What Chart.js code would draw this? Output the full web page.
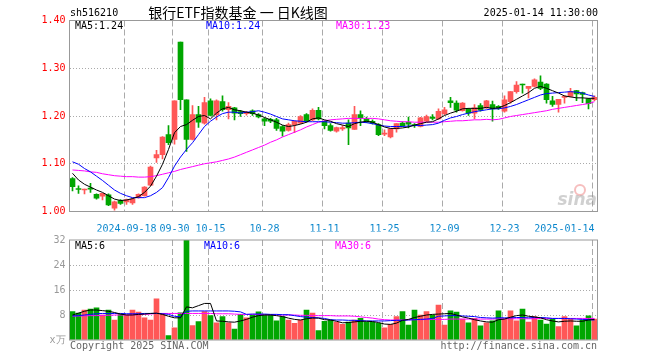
<!DOCTYPE html>
<html>
<head>
<meta charset="utf-8">
<script src="https://cdn.jsdelivr.net/npm/chart.js@4"></script>
<style>
  html, body { margin: 0; padding: 0; background: #fff; }
  #wrap { position: relative; width: 660px; height: 360px; }
  #wrap canvas { position: absolute; left: 0; top: 0; }
</style>
</head>
<body>
<div id="wrap">
  <canvas id="kline" width="660" height="360"></canvas>
  <canvas id="vol" width="660" height="360"></canvas>
</div>
<script>
const dates = ['2024-09-03','2024-09-04','2024-09-05','2024-09-06','2024-09-09','2024-09-10','2024-09-11','2024-09-12','2024-09-13','2024-09-18',
  '2024-09-19','2024-09-20','2024-09-23','2024-09-24','2024-09-25','2024-09-26','2024-09-27','2024-09-30','2024-10-08','2024-10-09',
  '2024-10-10','2024-10-11','2024-10-14','2024-10-15','2024-10-16','2024-10-17','2024-10-18','2024-10-21','2024-10-22','2024-10-23',
  '2024-10-24','2024-10-25','2024-10-28','2024-10-29','2024-10-30','2024-10-31','2024-11-01','2024-11-04','2024-11-05','2024-11-06',
  '2024-11-07','2024-11-08','2024-11-11','2024-11-12','2024-11-13','2024-11-14','2024-11-15','2024-11-18','2024-11-19','2024-11-20',
  '2024-11-21','2024-11-22','2024-11-25','2024-11-26','2024-11-27','2024-11-28','2024-11-29','2024-12-02','2024-12-03','2024-12-04',
  '2024-12-05','2024-12-06','2024-12-09','2024-12-10','2024-12-11','2024-12-12','2024-12-13','2024-12-16','2024-12-17','2024-12-18',
  '2024-12-19','2024-12-20','2024-12-23','2024-12-24','2024-12-25','2024-12-26','2024-12-27','2024-12-30','2024-12-31','2025-01-02',
  '2025-01-03','2025-01-06','2025-01-07','2025-01-08','2025-01-09','2025-01-10','2025-01-13','2025-01-14'];

const tickDates = ['2024-09-18','2024-09-30','2024-10-15','2024-10-28','2024-11-11','2024-11-25','2024-12-09','2024-12-23','2025-01-14'];
const tickLabels = ['2024-09-18','09-30','10-15','10-28','11-11','11-25','12-09','12-23','2025-01-14'];

const open = [1.069,1.048,1.045,1.049,1.036,1.032,1.035,1.007,1.023,1.020,
  1.018,1.029,1.033,1.055,1.112,1.119,1.161,1.151,1.355,1.234,
  1.151,1.203,1.185,1.232,1.203,1.230,1.213,1.217,1.209,1.205,
  1.211,1.203,1.194,1.193,1.192,1.178,1.170,1.182,1.185,1.203,
  1.192,1.212,1.189,1.180,1.168,1.173,1.185,1.172,1.203,1.194,
  1.189,1.182,1.162,1.156,1.173,1.185,1.187,1.181,1.178,1.189,
  1.198,1.194,1.205,1.232,1.227,1.211,1.214,1.206,1.222,1.217,
  1.224,1.220,1.210,1.230,1.251,1.267,1.258,1.262,1.271,1.267,
  1.232,1.224,1.239,1.241,1.253,1.249,1.236,1.234];
const high = [1.071,1.054,1.047,1.059,1.037,1.038,1.037,1.022,1.025,1.026,
  1.028,1.037,1.052,1.095,1.128,1.157,1.180,1.232,1.355,1.234,
  1.222,1.220,1.239,1.236,1.234,1.242,1.228,1.218,1.212,1.210,
  1.213,1.205,1.196,1.195,1.195,1.180,1.185,1.190,1.201,1.205,
  1.215,1.218,1.190,1.184,1.177,1.180,1.192,1.220,1.211,1.198,
  1.192,1.184,1.171,1.174,1.184,1.188,1.198,1.184,1.197,1.202,
  1.203,1.215,1.218,1.239,1.232,1.228,1.216,1.224,1.226,1.233,
  1.231,1.222,1.242,1.251,1.272,1.267,1.262,1.278,1.284,1.268,
  1.241,1.235,1.243,1.258,1.254,1.250,1.237,1.242];
const low = [1.043,1.038,1.037,1.040,1.026,1.024,1.012,1.003,1.015,1.015,
  1.015,1.028,1.032,1.054,1.103,1.110,1.140,1.141,1.213,1.126,
  1.150,1.176,1.183,1.200,1.192,1.210,1.194,1.192,1.199,1.202,
  1.201,1.196,1.180,1.186,1.170,1.158,1.168,1.165,1.184,1.187,
  1.190,1.192,1.173,1.168,1.166,1.170,1.140,1.172,1.180,1.186,
  1.183,1.159,1.159,1.154,1.166,1.178,1.175,1.176,1.177,1.188,
  1.192,1.193,1.203,1.218,1.208,1.210,1.201,1.194,1.210,1.216,
  1.189,1.214,1.208,1.227,1.248,1.248,1.238,1.261,1.255,1.227,
  1.220,1.208,1.227,1.240,1.232,1.228,1.215,1.232];
const close = [1.052,1.046,1.047,1.047,1.028,1.038,1.014,1.020,1.017,1.025,
  1.026,1.036,1.051,1.093,1.119,1.156,1.144,1.232,1.234,1.151,
  1.203,1.187,1.228,1.201,1.232,1.213,1.220,1.206,1.205,1.207,
  1.205,1.198,1.189,1.189,1.174,1.168,1.182,1.189,1.199,1.189,
  1.212,1.194,1.180,1.170,1.176,1.176,1.175,1.203,1.196,1.187,
  1.185,1.161,1.163,1.173,1.184,1.180,1.183,1.180,1.196,1.199,
  1.195,1.210,1.213,1.228,1.212,1.227,1.206,1.217,1.212,1.232,
  1.215,1.216,1.234,1.251,1.265,1.265,1.262,1.276,1.258,1.234,
  1.224,1.235,1.241,1.251,1.246,1.245,1.226,1.239];

const ma5 = [1.080,1.066,1.057,1.051,1.045,1.040,1.033,1.026,1.023,1.024,
  1.027,1.031,1.040,1.053,1.074,1.099,1.130,1.165,1.178,1.182,
  1.191,1.199,1.201,1.194,1.206,1.215,1.218,1.213,1.211,1.208,
  1.206,1.202,1.197,1.192,1.187,1.181,1.178,1.180,1.183,1.187,
  1.194,1.196,1.192,1.189,1.184,1.181,1.178,1.184,1.187,1.189,
  1.187,1.182,1.177,1.174,1.174,1.175,1.177,1.181,1.184,1.187,
  1.188,1.194,1.201,1.206,1.210,1.215,1.216,1.216,1.216,1.218,
  1.216,1.217,1.222,1.228,1.235,1.242,1.249,1.258,1.262,1.258,
  1.253,1.248,1.242,1.240,1.238,1.238,1.237,1.237];
const ma10 = [1.104,1.099,1.090,1.083,1.074,1.065,1.055,1.045,1.038,1.033,
  1.029,1.029,1.029,1.033,1.040,1.050,1.071,1.095,1.114,1.130,
  1.144,1.161,1.178,1.189,1.198,1.205,1.208,1.208,1.206,1.208,
  1.209,1.211,1.208,1.204,1.199,1.194,1.192,1.190,1.189,1.188,
  1.188,1.188,1.188,1.187,1.186,1.185,1.185,1.186,1.187,1.186,
  1.184,1.181,1.179,1.178,1.178,1.178,1.179,1.180,1.180,1.181,
  1.182,1.185,1.191,1.196,1.199,1.203,1.206,1.209,1.211,1.213,
  1.215,1.215,1.217,1.220,1.224,1.229,1.234,1.239,1.244,1.247,
  1.248,1.249,1.250,1.251,1.250,1.248,1.244,1.241];
const ma30 = [1.087,1.086,1.085,1.083,1.082,1.079,1.077,1.075,1.074,1.073,
  1.073,1.072,1.072,1.073,1.075,1.078,1.081,1.084,1.088,1.091,
  1.094,1.097,1.100,1.102,1.104,1.107,1.110,1.114,1.119,1.124,
  1.129,1.134,1.139,1.145,1.150,1.156,1.161,1.166,1.171,1.177,
  1.182,1.187,1.190,1.192,1.193,1.194,1.195,1.195,1.195,1.195,
  1.195,1.194,1.192,1.190,1.189,1.188,1.188,1.187,1.187,1.187,
  1.187,1.187,1.188,1.189,1.190,1.190,1.191,1.192,1.192,1.193,
  1.192,1.193,1.196,1.199,1.201,1.203,1.205,1.207,1.209,1.211,
  1.214,1.216,1.218,1.220,1.222,1.224,1.226,1.230];

// volume, in 万
const volume = [9.1,8.6,9.6,9.9,10.3,8.0,9.6,6.4,8.2,8.0,
  9.6,8.9,7.1,6.4,13.2,8.5,1.4,3.9,8.7,32.5,
  4.6,5.9,9.1,7.8,5.5,7.5,5.5,3.5,8.2,7.1,
  8.0,9.0,8.0,8.0,6.1,7.5,6.4,5.3,6.4,9.6,
  8.6,3.0,6.0,6.4,5.7,5.0,5.7,6.4,6.9,5.7,
  5.7,5.3,3.9,5.0,7.5,9.1,4.8,9.6,8.0,9.1,
  8.0,11.2,4.8,9.3,8.9,6.7,5.5,6.9,4.5,5.5,
  6.1,9.3,6.7,9.3,6.1,9.9,5.7,7.5,6.4,5.1,
  6.7,4.3,7.5,6.7,4.5,6.4,7.7,6.7];
const volMa5 = [8.0,8.6,9.2,9.6,9.6,9.4,9.2,8.8,8.3,8.0,
  8.0,8.2,8.3,8.5,8.6,8.2,7.6,7.1,7.1,10.6,
  10.3,11.0,11.7,11.7,6.1,6.0,5.8,5.7,6.1,6.6,
  7.3,7.8,8.0,8.0,7.8,7.5,7.0,6.6,6.4,6.8,
  7.0,7.0,6.5,6.4,6.0,5.5,5.6,5.8,6.0,6.0,
  5.9,5.6,5.1,5.0,5.4,6.3,6.6,7.2,7.6,8.0,
  8.2,8.3,8.4,8.5,8.0,7.4,7.0,6.5,6.1,5.8,
  5.7,6.5,6.7,7.3,7.8,8.0,7.6,7.4,7.1,6.5,
  6.1,5.8,6.0,6.1,6.0,6.0,6.4,6.6];
const volMa10 = [7.7,7.8,8.0,8.2,8.4,8.5,8.5,8.5,8.5,8.4,
  8.4,8.4,8.5,8.5,8.5,8.4,8.2,7.6,7.4,9.2,
  9.3,9.3,9.3,9.3,9.3,9.3,9.3,9.2,9.0,8.2,
  8.3,8.3,8.3,8.2,8.2,8.1,8.1,7.8,7.5,7.3,
  7.2,7.1,6.9,6.5,6.4,6.4,6.3,6.3,6.2,6.1,
  6.1,6.1,6.1,6.2,6.3,6.3,6.4,6.5,6.6,6.7,
  6.9,7.6,7.7,7.8,7.8,7.7,7.6,7.5,7.2,7.1,
  7.0,7.1,7.1,7.1,7.2,7.2,7.1,7.2,7.2,7.1,
  6.9,6.9,6.9,6.8,6.7,6.6,6.5,6.4];
const volMa30 = [7.6,7.7,7.7,7.8,7.8,7.9,7.9,8.0,8.0,8.0,
  8.1,8.1,8.2,8.3,8.5,8.5,8.5,8.5,8.5,8.5,
  8.5,8.5,8.5,8.5,8.4,8.4,8.4,8.3,8.2,8.2,
  8.2,8.2,8.1,8.1,8.0,8.0,8.0,8.0,7.9,7.9,
  7.8,7.8,7.8,7.8,7.7,7.7,7.7,7.6,7.4,7.2,
  7.0,6.7,6.5,6.4,6.4,6.4,6.5,6.5,6.5,6.6,
  6.6,6.6,6.6,6.7,6.7,6.7,6.7,6.7,6.7,6.7,
  6.7,6.8,6.8,6.8,6.8,6.8,6.8,6.8,6.9,6.9,
  6.9,6.9,6.9,6.9,6.9,6.9,6.9,6.9];

const RED = '#ff5757';
const GREEN = '#00a600';
const MONO = '"DejaVu Sans Mono", monospace';
const colors = close.map((c, i) => c >= open[i] ? RED : GREEN);
const last = a => a[a.length - 1];

function dateAxis(showLabels) {
  return {
    offset: true,
    afterBuildTicks: s => { s.ticks = tickDates.map(d => ({ value: dates.indexOf(d) })); },
    grid: { display: false },
    border: { display: false },
    ticks: {
      display: showLabels, autoSkip: false, maxRotation: 0, minRotation: 0, padding: 4,
      color: '#0a86cc', font: { family: MONO, size: 10 },
      callback: v => {
        const k = tickDates.indexOf(dates[v]);
        // last label sits left of its line, like the original
        return k === tickDates.length - 1 ? tickLabels[k] + '          ' : tickLabels[k];
      }
    },
    afterFit: s => { s.height = 20; }
  };
}

function lineSet(data, color) {
  return { type: 'line', data: data, borderColor: color, borderWidth: 1, pointRadius: 0, tension: 0, order: 0 };
}

// dashed vertical lines at the labelled dates, placed by the x scale
function drawDateLines(chart) {
  const { ctx, chartArea: a, scales } = chart;
  ctx.save();
  ctx.strokeStyle = '#aaa';
  ctx.lineWidth = 1;
  ctx.setLineDash([6, 3]);
  tickDates.forEach(d => {
    const x = Math.floor(scales.x.getPixelForValue(dates.indexOf(d))) - 1.5;
    ctx.beginPath();
    ctx.moveTo(x, a.top);
    ctx.lineTo(x, a.bottom);
    ctx.stroke();
  });
  ctx.restore();
}

function drawBox(chart) {
  const { ctx, chartArea: a } = chart;
  ctx.save();
  ctx.strokeStyle = '#999';
  ctx.lineWidth = 1;
  ctx.strokeRect(a.left, a.top, a.right - a.left, a.bottom - a.top);
  ctx.restore();
}

function text(ctx, str, x, y, color, align, font) {
  ctx.fillStyle = color;
  ctx.textAlign = align;
  ctx.font = font || ('10px ' + MONO);
  ctx.fillText(str, x, y);
}

const priceDeco = {
  id: 'priceDeco',
  beforeDatasetsDraw(chart) {
    drawDateLines(chart);
    const ctx = chart.ctx;
    ctx.save();
    ctx.textBaseline = 'alphabetic';
    ctx.strokeStyle = 'rgba(235,110,110,0.45)';
    ctx.lineWidth = 2;
    ctx.beginPath();
    ctx.arc(580, 190, 5, 0, Math.PI * 2);
    ctx.stroke();
    text(ctx, 'sina', 597, 205, 'rgba(150,150,150,0.45)', 'right', 'italic bold 17px "DejaVu Sans"');
    ctx.restore();
  },
  afterDraw(chart) {
    drawBox(chart);
    const ctx = chart.ctx;
    ctx.save();
    ctx.textBaseline = 'middle';
    text(ctx, 'sh516210', 70, 13, '#000', 'left');
    text(ctx, '银行ETF指数基金 一 日K线图', 238, 13, '#000', 'center', '14px "Noto Sans CJK SC"');
    text(ctx, '2025-01-14 11:30:00', 598, 13, '#000', 'right');
    text(ctx, 'MA5:' + last(ma5).toFixed(2), 75, 26.5, '#000', 'left');
    text(ctx, 'MA10:' + last(ma10).toFixed(2), 206, 26.5, '#0000ff', 'left');
    text(ctx, 'MA30:' + last(ma30).toFixed(2), 336, 26.5, '#ff00ff', 'left');
    ctx.restore();
  }
};

const volDeco = {
  id: 'volDeco',
  beforeDatasetsDraw(chart) {
    drawDateLines(chart);
  },
  afterDraw(chart) {
    drawBox(chart);
    const ctx = chart.ctx;
    ctx.save();
    ctx.textBaseline = 'middle';
    text(ctx, 'MA5:' + Math.floor(last(volMa5)), 75, 246.5, '#000', 'left');
    text(ctx, 'MA10:' + Math.floor(last(volMa10)), 204, 246.5, '#0000ff', 'left');
    text(ctx, 'MA30:' + Math.floor(last(volMa30)), 335, 246.5, '#ff00ff', 'left');
    text(ctx, 'Copyright 2025 SINA.COM', 70, 346, '#666', 'left');
    text(ctx, 'http://finance.sina.com.cn', 597, 346, '#666', 'right');
    ctx.restore();
  }
};

new Chart(document.getElementById('kline'), {
  type: 'bar',
  data: {
    labels: dates,
    datasets: [
      { data: low.map((l, i) => [l, high[i]]), backgroundColor: colors, barThickness: 1, grouped: false, order: 2 },
      { data: open.map((o, i) => [Math.min(o, close[i]), Math.max(o, close[i])]), backgroundColor: colors,
        barThickness: 5, minBarLength: 1, grouped: false, order: 1 },
      lineSet(ma5, '#000000'),
      lineSet(ma10, '#0000ff'),
      lineSet(ma30, '#ff00ff')
    ]
  },
  options: {
    responsive: false,
    animation: false,
    layout: { padding: { left: 0, right: 62.5, top: 20.5, bottom: 128.5 } },
    plugins: { legend: { display: false }, tooltip: { enabled: false } },
    scales: {
      x: dateAxis(true),
      y: {
        min: 1.0, max: 1.4,
        ticks: { stepSize: 0.1, color: '#ff0000', padding: 4, font: { family: MONO, size: 10 }, callback: v => v.toFixed(2) },
        grid: { drawTicks: false, color: c => (c.tick && (c.tick.value < 1.001 || c.tick.value > 1.399)) ? 'rgba(0,0,0,0)' : '#aaa' },
        border: { display: false, dash: [1, 2] },
        afterFit: s => { s.width = 69.5; }
      }
    }
  },
  plugins: [priceDeco]
});

new Chart(document.getElementById('vol'), {
  type: 'bar',
  data: {
    labels: dates,
    datasets: [
      { data: volume, backgroundColor: colors, barThickness: 5, order: 1 },
      lineSet(volMa5, '#000000'),
      lineSet(volMa10, '#0000ff'),
      lineSet(volMa30, '#ff00ff')
    ]
  },
  options: {
    responsive: false,
    animation: false,
    layout: { padding: { left: 0, right: 62.5, top: 240, bottom: 0 } },
    plugins: { legend: { display: false }, tooltip: { enabled: false } },
    scales: {
      x: dateAxis(false),
      y: {
        min: 0, max: 32,
        ticks: { stepSize: 8, color: '#999', padding: 4, font: { family: MONO, size: 10 },
          callback: v => v === 0 ? 'x万' : v },
        grid: { drawTicks: false, color: c => (c.tick && (c.tick.value === 0 || c.tick.value === 32)) ? 'rgba(0,0,0,0)' : '#aaa' },
        border: { display: false, dash: [1, 2] },
        afterFit: s => { s.width = 69.5; }
      }
    }
  },
  plugins: [volDeco]
});
</script>
</body>
</html>
